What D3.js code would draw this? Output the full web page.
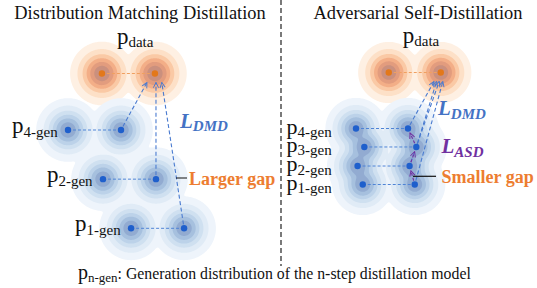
<!DOCTYPE html>
<html>
<head>
<meta charset="utf-8">
<script src="https://cdn.jsdelivr.net/npm/d3@7"></script>
<style>
  body { margin: 0; background: #fff; }
  svg { display: block; }
  svg text { font-family: "Liberation Serif", "Times New Roman", Times, "DejaVu Serif", serif; }
</style>
</head>
<body>
<svg id="svg" width="537" height="288"></svg>
<script>
// distributions in latent units: x = position of the left mode (gap between the two modes = 1), y = level
const dmdNames = ["data", "4-gen", "2-gen", "1-gen"];
const dmdX = [0.64, 0, 0.66, 1.19];
const dmdY = [0, 1, 1.87, 2.74];
const dmdAim = [null, -0.15, 0.02, 0.13];   // where each L_DMD arrow lands, relative to the right data mode

const asdNames = ["data", "4-gen", "3-gen", "2-gen", "1-gen"];
const asdX = [0.63, 0, 0.16, 0.03, 0.13];
const asdY = [0, 1, 1.33, 1.67, 2];
const asdAim = [null, -0.13, -0.08, -0.03, 0.04];

const titles = ["Distribution Matching Distillation", "Adversarial Self-Distillation"];
const gapLabels = ["Larger gap", "Smaller gap"];
const footer = ": Generation distribution of the n-step distillation model";

const W = 537, H = 288;
const FONT = "'Liberation Serif', 'Times New Roman', Times, serif";
const svg = d3.select("#svg").attr("font-family", FONT);

const blueFill = ["#eef4fb", "#e0ebf6", "#cfe0f0", "#bcd2e9", "#a6c0de", "#92abd1"];
const orangeFill = ["#fef0e3", "#fde0c7", "#fac9a5", "#f3ae87", "#e29c7e", "#ca907e"];
const levels = [0.05, 0.17, 0.33, 0.5, 0.67, 0.84];
const BLUE = "#4472c4", PURPLE = "#7030a0", ORANGE = "#ed7d31";

var defs = svg.append("defs");
[["blue", "#4a7bd0"], ["purple", PURPLE]].forEach(([id, c]) => {
  defs.append("marker")
    .attr("id", "head-" + id)
    .attr("viewBox", "0 0 8 8")
    .attr("refX", 7).attr("refY", 4)
    .attr("markerWidth", 7).attr("markerHeight", 7)
    .attr("markerUnits", "userSpaceOnUse")
    .attr("orient", "auto")
    .append("path")
      .attr("d", "M1,1 L7,4 L1,7")
      .attr("fill", "none")
      .attr("stroke", c)
      .attr("stroke-width", 1.1);
});

// soft union of gaussian bumps, contoured like a kde plot
function blobs(g, centers, sigma, fills) {
  var values = new Float64Array(W * H);
  for (var j = 0; j < H; j++) {
    for (var i = 0; i < W; i++) {
      var s = 0;
      centers.forEach(c => {
        var dx = i + 0.5 - c[0], dy = j + 0.5 - c[1];
        var v = Math.exp(-(dx * dx + dy * dy) / (2 * sigma * sigma));
        s += v * v * v * v;
      });
      values[j * W + i] = Math.pow(s, 0.25);
    }
  }
  var cs = d3.contours().size([W, H]).smooth(true).thresholds(levels)(values);
  g.selectAll(null)
    .data(cs)
    .join("path")
      .attr("d", d3.geoPath())
      .attr("fill", (d, i) => fills[i])
      .attr("stroke", "none");
}

function panel(names, xs, ys, aims, x, y, opt) {
  var g = svg.append("g");
  var modes = names.map((n, i) => ({ name: n, l: [x(xs[i]), y(ys[i])], r: [x(xs[i] + 1), y(ys[i])] }));
  var data = modes[0], gens = modes.slice(1);

  blobs(g.append("g"), [data.l, data.r], opt.sigma, orangeFill);
  blobs(g.append("g"), gens.flatMap(m => [m.l, m.r]), opt.sigma, blueFill);

  // dashed link between the two modes of each distribution
  g.selectAll(null)
    .data(modes)
    .join("line")
      .attr("x1", d => d.l[0]).attr("y1", d => d.l[1])
      .attr("x2", d => d.r[0]).attr("y2", d => d.r[1])
      .attr("stroke", (d, i) => i ? "#4f84d6" : "#f0a060")
      .attr("stroke-width", 1)
      .attr("stroke-dasharray", "3,2");

  // L_DMD arrows: every generator's right mode is pulled to the data mode
  var tipY = data.r[1] + 9;
  gens.forEach((m, k) => {
    var tx = x(xs[0] + 1 + aims[k + 1]);
    var dx = tx - m.r[0], dy = tipY - m.r[1], len = Math.hypot(dx, dy);
    g.append("line")
      .attr("x1", m.r[0] + dx / len * 4).attr("y1", m.r[1] + dy / len * 4)
      .attr("x2", tx).attr("y2", tipY)
      .attr("stroke", "#4a7bd0")
      .attr("stroke-width", 1.1)
      .attr("stroke-dasharray", "4,2.5")
      .attr("marker-end", "url(#head-blue)");
  });

  // L_ASD arrows: each step is pulled to the next finer step
  if (opt.chain) {
    for (var k = gens.length - 1; k > 0; k--) {
      var a = gens[k].r, b = gens[k - 1].r;
      var dx = b[0] - a[0], dy = b[1] - a[1], len = Math.hypot(dx, dy);
      g.append("line")
        .attr("x1", a[0] + dx / len * 4).attr("y1", a[1] + dy / len * 4)
        .attr("x2", b[0] - dx / len * 5).attr("y2", b[1] - dy / len * 5)
        .attr("stroke", PURPLE)
        .attr("stroke-width", 1.1)
        .attr("stroke-dasharray", "3,2")
        .attr("marker-end", "url(#head-purple)");
    }
  }

  g.selectAll(null)
    .data(modes.flatMap((m, i) => [{ p: m.l, i: i }, { p: m.r, i: i }]))
    .join("circle")
      .attr("cx", d => d.p[0]).attr("cy", d => d.p[1])
      .attr("r", 3.2)
      .attr("fill", d => d.i ? "#1f5fcc" : "#e3781a");

  // labels
  var pd = g.append("text")
    .attr("x", data.l[0] + opt.dataLabelDx).attr("y", data.l[1] - 30)
    .attr("font-size", 23).attr("fill", "#111");
  pd.append("tspan").text("p");
  pd.append("tspan").attr("dy", 3).attr("font-size", 15).text("data");

  gens.forEach((m, k) => {
    var t = g.append("text")
      .attr("x", opt.labelX ? opt.labelX : m.l[0] - 56)
      .attr("y", m.l[1] + opt.labelDy)
      .attr("font-size", opt.labelSize).attr("fill", "#111");
    t.append("tspan").text("p");
    t.append("tspan").attr("dy", 3.5).attr("font-size", 15).text(m.name);
  });

  return { g: g, data: data, gens: gens };
}

function lossLabel(x0, y0, sub, color) {
  var t = svg.append("text")
    .attr("x", x0).attr("y", y0)
    .attr("fill", color)
    .attr("font-weight", "bold")
    .attr("font-style", "italic")
    .attr("font-size", 21);
  t.append("tspan").text("L");
  t.append("tspan").attr("dy", 3.5).attr("font-size", 15).text(sub);
}

// left panel
var left = panel(dmdNames, dmdX, dmdY, dmdAim,
  d3.scaleLinear().domain([0, 1]).range([68, 121]),
  d3.scaleLinear().domain([0, 1]).range([73.5, 130]),
  { sigma: 13, chain: false, dataLabelDx: 15, labelDy: 3, labelX: null, labelSize: 23 });

// right panel
var right = panel(asdNames, asdX, asdY, asdAim,
  d3.scaleLinear().domain([0, 1]).range([356, 408]),
  d3.scaleLinear().domain([0, 1]).range([72.5, 128.5]),
  { sigma: 12.5, chain: true, dataLabelDx: 14, labelDy: 5, labelX: 286.5, labelSize: 22 });

svg.selectAll(".title")
  .data(titles)
  .join("text")
    .attr("class", "title")
    .attr("x", (d, i) => i ? 418 : 140)
    .attr("y", 18.5)
    .attr("text-anchor", "middle")
    .attr("font-size", 18.4)
    .attr("fill", "#111")
    .text(d => d);

lossLabel(180, 127.5, "DMD", BLUE);
lossLabel(438, 115, "DMD", BLUE);
lossLabel(441.5, 153, "ASD", PURPLE);

// gap markers
svg.append("line")
  .attr("x1", 176).attr("x2", 187).attr("y1", 178).attr("y2", 178)
  .attr("stroke", "#111").attr("stroke-width", 1);
svg.append("line")
  .attr("x1", 413).attr("x2", 436).attr("y1", 176.3).attr("y2", 176.3)
  .attr("stroke", "#111").attr("stroke-width", 1.2);
svg.selectAll(".gap")
  .data(gapLabels)
  .join("text")
    .attr("class", "gap")
    .attr("x", (d, i) => i ? 441.5 : 189)
    .attr("y", (d, i) => i ? 182.5 : 185)
    .attr("font-size", 18)
    .attr("font-weight", "bold")
    .attr("fill", ORANGE)
    .text(d => d);

// divider
svg.append("line")
  .attr("x1", 281).attr("x2", 281).attr("y1", 0).attr("y2", 266)
  .attr("stroke", "#222")
  .attr("stroke-width", 1.2)
  .attr("stroke-dasharray", "5,3");

// footer
var ft = svg.append("text")
  .attr("x", 78).attr("y", 279)
  .attr("fill", "#111")
  .attr("font-size", 20);
ft.append("tspan").text("p");
ft.append("tspan").attr("dy", 3).attr("font-size", 13).text("n-gen");
ft.append("tspan").attr("dy", -3).attr("font-size", 15.8).text(footer);
</script>
</body>
</html>
